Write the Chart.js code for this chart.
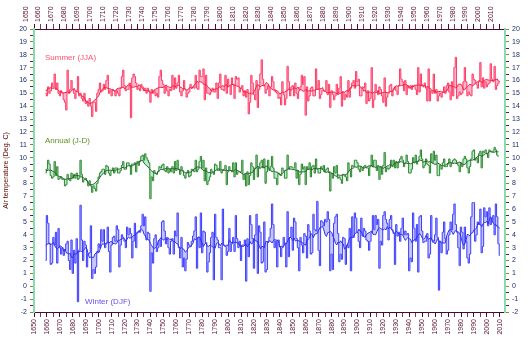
<!DOCTYPE html>
<html>
<head>
<meta charset="utf-8">
<title>Central England temperature</title>
<script src="https://cdn.jsdelivr.net/npm/chart.js@4.4.1/dist/chart.umd.min.js"></script>
<style>
  html, body { margin: 0; padding: 0; background: #ffffff; }
  #cetChart { display: block; }
</style>
</head>
<body>
<canvas id="cetChart" width="528" height="342"></canvas>
<script>
/* ---------- Data (deg C, one value per year) ---------- */
const firstYear = 1659;

// Summer (JJA), 1659-2010
const summerValues = [
  15.0, 14.8, 15.5, 15.0, 15.2, 15.8, 15.5, 16.5, 15.3, 15.8, 15.0, // 1659-1669
  14.8, 15.2, 15.0, 14.5, 14.3, 13.7, 16.8, 15.0, 15.3, 16.0,
  15.3, 15.0, 14.6, 15.2, 16.3, 14.8, 15.0, 14.6, 14.4, 15.0,
  14.2, 14.4, 14.0, 14.6, 14.0, 13.2, 14.3, 14.3, 13.6, 15.0,
  15.3, 15.8, 15.1, 15.2, 15.7, 15.3, 16.0, 16.4, 15.0, 15.2, // 1700s
  14.8, 15.3, 15.2, 14.8, 15.2, 15.0, 14.8, 15.4, 16.3, 16.8,
  15.6, 15.2, 15.3, 15.3, 15.8, 13.1, 16.2, 16.5, 16.3, 15.8,
  15.3, 15.4, 15.2, 15.7, 15.5, 15.2, 15.4, 15.0, 15.4, 15.2,
  14.3, 15.3, 15.0, 15.2, 14.8, 15.0, 14.7, 16.3, 16.8, 16.0,
  15.7, 15.0, 15.5, 15.2, 14.8, 15.3, 15.2, 16.4, 15.3, 16.2,
  15.4, 15.8, 16.4, 15.1, 14.8, 15.2, 16.0, 15.3, 14.7, 15.0,
  15.1, 15.7, 15.4, 15.5, 15.4, 16.4, 15.4, 15.3, 16.8, 16.3,
  16.3, 16.9, 14.5, 16.4, 15.0, 15.0, 14.9, 15.1, 15.4, 15.1,
  15.1, 15.8, 14.6, 15.8, 16.5, 15.3, 15.3, 15.2, 16.4, 15.0,
  16.1, 15.6, 14.9, 16.2, 15.7, 14.6, 16.3, 16.1, 16.2, 15.1, // 1800s
  15.4, 15.6, 14.8, 15.2, 14.7, 15.3, 13.4, 14.3, 16.4, 15.8,
  14.9, 14.5, 16.0, 13.9, 15.3, 16.5, 17.6, 16.1, 15.6, 15.0,
  15.3, 15.6, 14.8, 15.5, 16.3, 15.9, 15.3, 15.1, 15.0, 14.6,
  14.7, 14.1, 15.9, 14.9, 14.1, 14.6, 17.1, 15.9, 14.8, 15.5,
  15.6, 14.8, 15.8, 15.0, 14.6, 15.2, 15.5, 16.4, 15.7, 16.3,
  13.3, 15.5, 14.4, 14.8, 15.4, 15.5, 14.8, 14.8, 16.9, 15.3,
  16.0, 14.6, 14.9, 15.2, 15.2, 15.2, 16.0, 14.9, 15.7, 13.9,
  15.2, 14.9, 14.5, 14.8, 15.7, 14.9, 15.4, 16.3, 14.0, 15.1,
  14.5, 14.9, 14.7, 16.0, 14.7, 15.4, 15.8, 16.0, 15.4, 16.7,
  15.9, 16.1, 14.8, 14.8, 15.5, 15.4, 15.8, 14.2, 15.2, 14.4, // 1900s
  14.6, 17.0, 13.9, 14.5, 15.7, 15.2, 14.9, 15.5, 15.3, 14.8,
  14.3, 16.2, 14.0, 14.7, 15.0, 15.6, 15.7, 14.8, 15.3, 15.5,
  15.2, 14.9, 15.6, 16.9, 16.1, 15.9, 15.2, 16.0, 14.9, 15.6,
  15.4, 15.6, 15.3, 15.6, 15.6, 15.3, 14.9, 17.0, 15.1, 16.5,
  15.6, 15.5, 15.8, 15.4, 14.4, 16.9, 14.4, 15.2, 15.0, 16.5,
  15.0, 15.3, 14.4, 14.8, 15.0, 14.7, 15.1, 15.5, 15.0, 15.6,
  15.8, 15.1, 14.5, 15.9, 14.8, 17.0, 17.8, 14.6, 14.8, 15.1,
  14.9, 15.0, 15.9, 17.0, 15.9, 14.8, 15.1, 14.9, 14.8, 16.5,
  16.1, 16.0, 15.7, 15.4, 15.9, 17.4, 15.5, 16.2, 15.4, 15.9,
  15.5, 15.7, 15.8, 17.3, 16.1, 15.9, 17.1, 15.3, 15.6, 15.8, 15.8 // 2000-2010
];

// Annual (J-D), 1659-2009
const annualValues = [
  8.8, 9.1, 9.8, 9.5, 8.6, 8.4, 8.5, 9.7, 8.6, 9.3, 8.3, // 1659-1669
  8.4, 8.5, 8.3, 8.3, 7.8, 7.9, 8.7, 8.3, 8.2, 8.8,
  8.4, 8.7, 8.4, 8.8, 8.3, 8.4, 9.8, 8.7, 8.1, 8.3,
  8.4, 8.2, 7.8, 8.2, 7.8, 7.3, 7.8, 7.6, 7.4, 8.0,
  8.5, 8.8, 8.9, 9.1, 9.1, 8.7, 9.4, 9.3, 8.8, 8.6, // 1700s
  9.0, 9.2, 8.8, 9.2, 9.2, 8.8, 8.8, 9.0, 9.4, 9.7,
  9.1, 9.1, 9.6, 9.6, 9.4, 8.7, 9.5, 9.5, 9.6, 8.9,
  9.7, 9.4, 9.7, 10.1, 10.2, 9.8, 10.3, 10.0, 9.8, 9.6,
  6.8, 8.5, 8.2, 9.0, 8.8, 8.7, 8.9, 9.3, 9.2, 9.4,
  9.5, 9.0, 8.9, 9.3, 8.8, 9.1, 8.9, 9.3, 8.8, 9.7,
  9.0, 9.8, 9.1, 8.7, 9.3, 9.0, 8.6, 8.4, 8.8, 9.0,
  8.5, 8.6, 9.1, 9.0, 8.9, 9.8, 8.9, 9.1, 9.7, 10.1,
  9.2, 9.8, 8.2, 9.2, 7.9, 8.2, 8.5, 9.1, 8.9, 8.7,
  9.5, 9.4, 9.0, 9.0, 9.7, 8.8, 9.0, 9.1, 9.4, 7.9,
  8.9, 9.3, 9.0, 8.9, 9.6, 8.5, 9.6, 8.7, 8.9, 8.9, // 1800s
  8.9, 9.8, 8.3, 8.7, 7.8, 8.9, 7.9, 8.6, 9.6, 9.3,
  8.3, 9.2, 10.2, 8.5, 9.2, 9.6, 9.8, 9.2, 9.9, 8.0,
  8.9, 9.8, 9.0, 9.3, 10.1, 9.2, 8.4, 8.4, 7.9, 8.8,
  8.7, 8.6, 9.2, 9.0, 8.4, 8.4, 10.2, 9.1, 9.3, 9.3,
  9.2, 9.2, 9.6, 8.4, 9.0, 7.9, 8.7, 9.5, 9.1, 9.3,
  7.9, 9.3, 9.1, 9.6, 8.5, 9.3, 9.4, 8.8, 9.9, 9.1,
  8.8, 8.8, 9.3, 9.1, 9.4, 8.9, 9.1, 9.2, 8.9, 7.4,
  8.8, 8.4, 9.3, 8.8, 9.4, 8.4, 8.5, 8.3, 8.0, 8.7,
  8.7, 8.5, 8.2, 9.6, 9.0, 8.5, 9.4, 9.3, 9.8, 9.8,
  9.6, 9.1, 8.9, 9.3, 9.0, 9.3, 9.4, 9.2, 9.2, 8.6, // 1900s
  9.3, 10.2, 9.3, 9.8, 9.8, 9.0, 9.3, 8.3, 9.3, 8.7,
  9.4, 10.4, 8.9, 9.2, 9.1, 9.2, 9.8, 9.3, 9.8, 9.2,
  9.7, 9.2, 9.7, 9.9, 10.1, 9.8, 9.3, 9.6, 10.2, 9.7,
  8.8, 8.8, 9.1, 10.0, 9.6, 10.2, 9.5, 9.7, 10.1, 10.6,
  9.9, 9.2, 9.4, 9.9, 9.5, 9.4, 8.8, 10.3, 9.6, 10.5,
  9.8, 10.2, 8.6, 8.6, 9.4, 9.1, 9.6, 9.9, 9.3, 9.3,
  9.5, 9.9, 9.3, 9.6, 9.8, 9.9, 9.8, 9.6, 9.4, 8.9,
  9.6, 9.3, 9.9, 10.1, 9.9, 9.2, 8.8, 9.3, 9.9, 10.5,
  10.6, 9.8, 10.0, 9.6, 10.3, 10.5, 9.2, 10.5, 10.4, 10.6,
  10.3, 10.0, 10.6, 10.5, 10.5, 10.5, 10.8, 10.6, 10.2, 10.1 // 2000-2009
];

// Winter (DJF), 1659-2010
const winterValues = [
  2.0, 5.5, 4.9, 3.3, 1.7, 1.8, 3.8, 3.2, 4.2, 1.8, 4.5, // 1659-1669
  3.0, 2.5, 3.0, 2.4, 2.8, 3.3, 3.5, 2.0, 1.3, 3.6,
  1.0, 2.8, 1.8, 3.7, -1.2, 2.8, 6.3, 3.6, 2.0, 3.5,
  3.2, 1.5, 2.5, 2.6, 4.7, 0.6, 1.3, 1.0, 1.5, 2.6,
  3.3, 3.0, 4.4, 3.5, 4.4, 3.0, 3.3, 4.6, 2.7, 1.1, // 1700s
  3.2, 3.8, 3.9, 3.5, 4.7, 4.4, 1.5, 3.2, 4.0, 3.8,
  3.5, 3.0, 4.6, 4.0, 4.5, 4.1, 2.2, 3.5, 4.9, 3.0,
  4.2, 4.3, 4.2, 4.7, 5.6, 4.7, 5.4, 3.6, 4.2, 4.1,
  -0.4, 2.6, 1.8, 3.7, 4.0, 2.7, 3.0, 3.6, 3.1, 5.0,
  5.1, 4.3, 3.3, 3.8, 3.0, 2.5, 3.5, 3.7, 2.5, 4.3,
  3.9, 5.7, 3.0, 2.2, 3.8, 1.5, 2.2, 1.2, 2.1, 3.4,
  3.2, 3.1, 3.5, 3.9, 4.3, 5.4, 1.4, 3.8, 3.0, 5.7,
  2.6, 4.3, 4.2, 3.4, 1.1, 1.9, 2.6, 3.8, 4.2, 0.5,
  5.6, 3.8, 3.6, 3.0, 3.0, 0.5, 6.0, 3.2, 3.1, 2.4,
  2.7, 4.5, 2.7, 3.3, 3.8, 2.7, 5.5, 3.7, 3.0, 3.5, // 1800s
  2.0, 3.2, 3.2, 3.6, 0.4, 3.7, 2.3, 5.5, 4.8, 3.7,
  1.4, 4.0, 5.6, 1.0, 4.7, 4.2, 1.8, 1.9, 5.0, 1.1,
  1.3, 3.5, 3.8, 4.5, 6.4, 4.8, 3.0, 3.5, 1.5, 3.6,
  3.1, 2.3, 3.0, 3.8, 3.3, 1.5, 5.8, 2.3, 3.8, 4.6,
  2.8, 5.3, 5.0, 3.7, 3.0, 1.2, 3.8, 3.2, 2.6, 4.1,
  3.9, 2.2, 4.8, 4.3, 2.5, 2.6, 5.6, 4.4, 4.3, 6.6,
  2.8, 1.6, 5.1, 5.0, 4.7, 5.2, 5.0, 5.8, 5.2, 1.2,
  2.5, 1.3, 4.9, 5.4, 5.6, 4.1, 1.9, 2.5, 2.1, 3.8,
  3.7, 1.7, 3.2, 3.0, 4.5, 1.2, 5.4, 3.8, 5.7, 5.3,
  4.2, 3.5, 3.0, 5.3, 3.9, 4.5, 4.3, 3.6, 3.5, 2.8, // 1900s
  3.5, 4.2, 5.5, 4.4, 5.5, 4.8, 5.2, 1.4, 3.5, 3.2,
  5.5, 5.8, 5.2, 4.9, 3.6, 5.2, 5.5, 4.4, 4.1, 1.7,
  4.8, 3.9, 4.2, 3.5, 4.5, 5.3, 4.0, 4.3, 4.0, 4.1,
  1.2, 2.2, 1.9, 5.7, 4.5, 3.5, 4.8, 1.1, 5.4, 5.5,
  4.3, 3.4, 3.5, 3.5, 4.1, 2.2, 2.5, 5.5, 3.6, 3.5,
  4.0, 5.3, 3.8, -0.3, 3.5, 2.6, 4.2, 5.0, 3.7, 2.5,
  2.8, 4.0, 5.0, 4.4, 5.6, 6.4, 4.8, 4.2, 3.0, 1.6,
  4.6, 4.2, 2.9, 4.6, 3.5, 2.2, 1.8, 2.5, 5.4, 6.5,
  6.5, 3.5, 4.0, 5.0, 4.8, 6.0, 2.6, 3.1, 6.1, 5.4,
  5.8, 4.7, 6.1, 4.8, 5.2, 5.5, 4.0, 6.4, 5.4, 3.3, 2.4 // 2000-2010
];

const yearTicks = [];
for (let y = 1650; y <= 2010; y += 5) yearTicks.push(y);
const tempTicks = [];
for (let t = -2; t <= 20; t += 0.5) tempTicks.push(t);

/* ---------- Helpers ---------- */
function toPoints(values) {
  return values.map((v, i) => ({ x: firstYear + i, y: v }));
}

// running mean over the years (same smoothing as the original)
function runningMean(values, half) {
  return values.map((v, i) => {
    let sum = 0;
    let n = 0;
    for (let k = Math.max(0, i - half); k <= Math.min(values.length - 1, i + half); k++) {
      sum += values[k];
      n++;
    }
    return { x: firstYear + i, y: sum / n };
  });
}

function seriesPair(values, lineColor, fillColor, meanColor) {
  return [
    {
      data: toPoints(values),
      stepped: "middle",
      borderColor: lineColor,
      backgroundColor: fillColor,
      borderWidth: 1,
      pointRadius: 0,
      fill: "+1",
      order: 2
    },
    {
      data: runningMean(values, 5),
      borderColor: meanColor,
      borderWidth: 1,
      pointRadius: 0,
      fill: false,
      order: 1
    }
  ];
}

/* ---------- Series labels ---------- */
const seriesLabelPlugin = {
  id: "seriesLabels",
  afterDatasetsDraw(chart) {
    const ctx = chart.ctx;
    const xs = chart.scales.x;
    const ys = chart.scales.y;
    const labels = [
      { text: "Summer (JJA)", year: 1658.5, temp: 17.75, color: "#ff4f72" },
      { text: "Annual (J-D)", year: 1658.5, temp: 11.3, color: "#5f8f1f" },
      { text: "Winter (DJF)", year: 1689.5, temp: -1.2, color: "#6a4ef0" }
    ];
    ctx.save();
    ctx.font = "8px 'Liberation Sans', Arial, sans-serif";
    ctx.textBaseline = "middle";
    labels.forEach((l) => {
      ctx.fillStyle = l.color;
      ctx.fillText(l.text, xs.getPixelForValue(l.year), ys.getPixelForValue(l.temp));
    });
    ctx.restore();
  }
};

/* ---------- Chart ---------- */
const tickFont = { family: "'Liberation Sans', Arial, sans-serif", size: 7 };
const yearColor = "#5a1030";
const tempColor = "#1c2d6a";

function yearAxis(position, height) {
  return {
    type: "linear",
    position: position,
    min: 1650,
    max: 2014,
    afterBuildTicks(scale) {
      scale.ticks = yearTicks.map((v) => ({ value: v }));
    },
    afterFit(scale) {
      scale.height = height;
    },
    ticks: {
      autoSkip: false,
      minRotation: 90,
      maxRotation: 90,
      padding: 2,
      color: yearColor,
      font: tickFont,
      callback: (v) => (v % 10 === 0 ? String(v) : "")
    },
    grid: {
      drawOnChartArea: false,
      tickLength: 5,
      color: (c) => (c.tick && c.tick.value % 10 === 0 ? "#4a0a2a" : "#8a3050")
    },
    border: { color: "#4a0a2a", width: 1 }
  };
}

function tempAxis(position, width, withTitle) {
  return {
    type: "linear",
    position: position,
    min: -2,
    max: 20,
    afterBuildTicks(scale) {
      scale.ticks = tempTicks.map((v) => ({ value: v }));
    },
    afterFit(scale) {
      scale.width = width;
    },
    title: {
      display: withTitle,
      text: "Air temperature (Deg. C)",
      color: "#5a0000",
      font: { family: "'Liberation Sans', Arial, sans-serif", size: 7 },
      padding: 0
    },
    ticks: {
      autoSkip: false,
      padding: 3,
      color: tempColor,
      font: tickFont,
      callback: (v) => (Number.isInteger(v) ? String(v) : "")
    },
    grid: {
      drawOnChartArea: false,
      tickLength: 4,
      color: (c) => (c.tick && Number.isInteger(c.tick.value) ? "#8a8a20" : "#7a1030")
    },
    border: { color: "#86dcb0", width: 2 }
  };
}

new Chart(document.getElementById("cetChart"), {
  type: "line",
  data: {
    datasets: [
      ...seriesPair(summerValues, "#ff3a64", "rgba(255, 130, 170, 0.6)", "#f0203f"),
      ...seriesPair(annualValues, "#2a862a", "rgba(150, 228, 185, 0.7)", "#2a5e2a"),
      ...seriesPair(winterValues, "#3c3cff", "rgba(160, 160, 255, 0.6)", "#2e2ee6")
    ]
  },
  options: {
    responsive: false,
    animation: false,
    parsing: true,
    layout: { padding: { left: 2, right: 0, top: 0, bottom: 0 } },
    plugins: {
      legend: { display: false },
      tooltip: { enabled: false }
    },
    scales: {
      x: yearAxis("bottom", 30),
      xTop: yearAxis("top", 29),
      y: tempAxis("left", 32, true),
      yRight: tempAxis("right", 23, false)
    }
  },
  plugins: [seriesLabelPlugin]
});
</script>
</body>
</html>
